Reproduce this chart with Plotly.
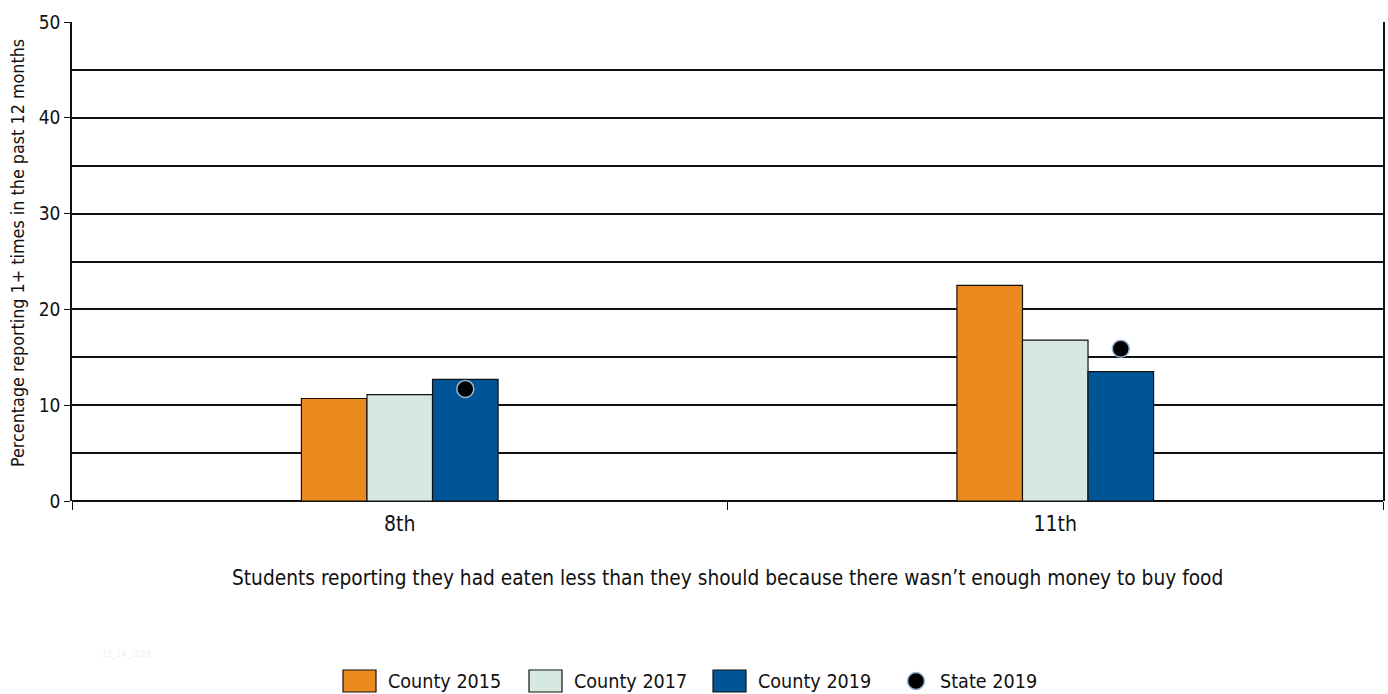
import plotly.graph_objects as go

grades = ["8th", "11th"]
county_2015 = [10.7, 22.5]
county_2017 = [11.1, 16.8]
county_2019 = [12.7, 13.5]
state_2019 = [11.7, 15.9]

series_names = ["County 2015", "County 2017", "County 2019"]
series_vals = [county_2015, county_2017, county_2019]
colors = ["#EB8A1E", "#D6E8E0", "#005596"]
state_name = "State 2019"

x_title = "Students reporting they had eaten less than they should because there wasn’t enough money to buy food"
y_title = "Percentage reporting 1+ times in the past 12 months"

FONT = "DejaVu Sans Condensed, sans-serif"
W, H = 1388, 694
L, R, T, B = 72, 5, 22, 193
PW, PH = W - L - R, H - T - B


def px_x(px):
    return (px - L) / PW


def px_y(py):
    return (H - B - py) / PH


fig = go.Figure()
for name, vals, col in zip(series_names, series_vals, colors):
    fig.add_trace(go.Bar(
        x=grades, y=vals, name=name, showlegend=False,
        marker=dict(color=col, line=dict(color="#111111", width=1.2)),
        hoverinfo="y+name",
    ))

bar_w = 0.3 / 3
dot_x = [i + bar_w for i in range(len(grades))]
fig.add_trace(go.Scatter(
    x=dot_x, y=state_2019, name=state_name, mode="markers", showlegend=False,
    xaxis="x2",
    marker=dict(color="black", size=17, line=dict(color="#9BB5D0", width=1.5)),
))

fig.update_layout(
    width=W, height=H,
    margin=dict(l=L, r=R, t=T, b=B),
    paper_bgcolor="white", plot_bgcolor="white",
    barmode="group", bargap=0.7, bargroupgap=0,
    font=dict(family=FONT, size=17, color="#111111"),
    xaxis=dict(
        type="category", tickson="boundaries", ticks="outside", ticklen=8,
        tickcolor="#111111", showline=False, showgrid=False, automargin=False,
        tickfont=dict(size=21), ticklabelstandoff=8,
    ),
    xaxis2=dict(overlaying="x", range=[-0.5, 1.5], visible=False),
    yaxis=dict(
        range=[0, 50], dtick=10, tick0=0, ticks="outside", ticklen=6,
        tickcolor="#111111", showline=True, linecolor="#111111", linewidth=1.5,
        mirror=True, automargin=False,
        showgrid=True, gridcolor="#111111", gridwidth=1.5,
        minor=dict(dtick=5, showgrid=True, gridcolor="#111111", gridwidth=1.5),
        zeroline=True, zerolinecolor="#111111", zerolinewidth=1.5,
        tickfont=dict(size=19),
    ),
    showlegend=False,
)

# Axis titles
fig.add_annotation(text=x_title, xref="paper", yref="paper", x=px_x(727), y=px_y(578),
                   showarrow=False, font=dict(size=20.7), xanchor="center", yanchor="middle")
fig.add_annotation(text=y_title, xref="paper", yref="paper", x=px_x(17), y=px_y(253),
                   showarrow=False, font=dict(size=17.8), textangle=-90,
                   xanchor="center", yanchor="middle")

# Faint date stamp
fig.add_annotation(text="11_14_2019", xref="paper", yref="paper", x=px_x(100), y=px_y(661),
                   showarrow=False, font=dict(size=9, color="#F0F0F0"), xanchor="left")

# Legend (manual, to match rectangular swatches)
legend_y = 681
swatch_x = [343, 529, 713]
for name, col, sx in zip(series_names, colors, swatch_x):
    fig.add_shape(type="rect", xref="paper", yref="paper",
                  x0=px_x(sx), x1=px_x(sx + 33), y0=px_y(legend_y + 11), y1=px_y(legend_y - 11),
                  fillcolor=col, line=dict(color="#111111", width=1.2))
    fig.add_annotation(text=name, xref="paper", yref="paper", x=px_x(sx + 43), y=px_y(legend_y),
                       showarrow=False, font=dict(size=19.6), xanchor="left", yanchor="middle")
dot_cx = 916
fig.add_shape(type="circle", xref="paper", yref="paper",
              x0=px_x(dot_cx - 8.5), x1=px_x(dot_cx + 8.5), y0=px_y(legend_y + 8.5), y1=px_y(legend_y - 8.5),
              fillcolor="black", line=dict(color="#9BB5D0", width=1.5))
fig.add_annotation(text=state_name, xref="paper", yref="paper", x=px_x(938), y=px_y(legend_y),
                   showarrow=False, font=dict(size=19.6), xanchor="left", yanchor="middle")

fig.write_html("out.html")
